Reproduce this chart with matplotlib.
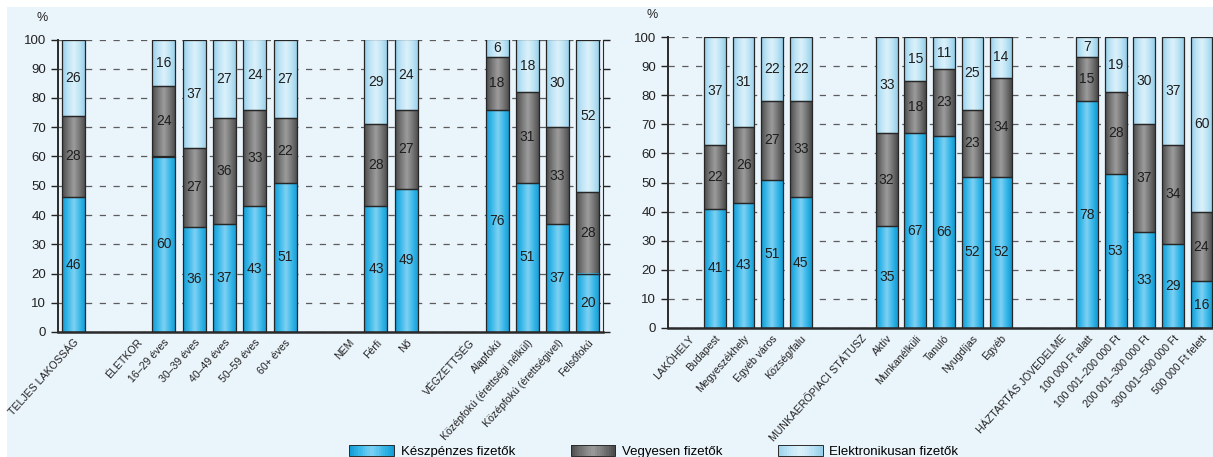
import numpy as np
import matplotlib
matplotlib.use("Agg")
import matplotlib.pyplot as plt
from matplotlib.colors import LinearSegmentedColormap
from matplotlib.patches import Rectangle
from matplotlib.legend_handler import HandlerBase

plt.rcParams['font.family'] = ['Liberation Sans', 'DejaVu Sans']

# ---- data (percent) ----
left_headers = [None, 'ÉLETKOR', 'NEM', 'VÉGZETTSÉG']
left_group_sizes = [1, 5, 2, 4]
left_labels = ['TELJES LAKOSSÁG', '16–29 éves', '30–39 éves', '40–49 éves', '50–59 éves',
               '60+ éves', 'Férfi', 'Nő', 'Alapfokú', 'Középfokú (érettségi nélkül)',
               'Középfokú (érettségivel)', 'Felsőfokú']
left_cash = [46, 60, 36, 37, 43, 51, 43, 49, 76, 51, 37, 20]
left_mixed = [28, 24, 27, 36, 33, 22, 28, 27, 18, 31, 33, 28]
left_elec = [26, 16, 37, 27, 24, 27, 29, 24, 6, 18, 30, 52]

right_headers = ['LAKÓHELY', 'MUNKAERŐPIACI STÁTUSZ', 'HÁZTARTÁS JÖVEDELME']
right_group_sizes = [4, 5, 5]
right_labels = ['Budapest', 'Megyeszékhely', 'Egyéb város', 'Község/falu',
                'Aktív', 'Munkanélküli', 'Tanuló', 'Nyugdíjas', 'Egyéb',
                '100 000 Ft alatt', '100 001–200 000 Ft', '200 001–300 000 Ft',
                '300 001–500 000 Ft', '500 000 Ft felett']
right_cash = [41, 43, 51, 45, 35, 67, 66, 52, 52, 78, 53, 33, 29, 16]
right_mixed = [22, 26, 27, 33, 32, 18, 23, 23, 34, 15, 28, 37, 34, 24]
right_elec = [37, 31, 22, 22, 33, 15, 11, 25, 14, 7, 19, 30, 37, 60]

series_names = ['Készpénzes fizetők', 'Vegyesen fizetők', 'Elektronikusan fizetők']

# horizontal gradient of each series (edge -> highlight -> edge)
cmaps = [
    LinearSegmentedColormap.from_list('cash', ['#119bd5', '#3dbaea', '#7fd1f3', '#3ab8e9', '#109ad4']),
    LinearSegmentedColormap.from_list('mixed', ['#4a4a4a', '#777777', '#9c9c9c', '#757575', '#484848']),
    LinearSegmentedColormap.from_list('elec', ['#98cfea', '#bfe5f6', '#dcf1fb', '#bde4f5', '#96cee9']),
]

BG = '#eaf4fb'
W, H = 1213, 457


def layout(group_sizes, headers):
    item_pos, head_pos = [], []
    pos = 0
    for gi, size in enumerate(group_sizes):
        if gi > 0:
            pos += 1
        if headers[gi] is not None:
            head_pos.append(pos + 0.1)
            pos += 1
        for _ in range(size):
            item_pos.append(pos)
            pos += 1
    return np.array(item_pos, float), head_pos


def draw_panel(ax, group_sizes, headers, labels, cash, mixed, elec, xlim, right_spine):
    xs, hx = layout(group_sizes, headers)
    width = 0.76
    grad = np.linspace(0, 1, 64).reshape(1, -1)
    bottom = np.zeros(len(xs))
    for vals, cmap in zip([cash, mixed, elec], cmaps):
        vals = np.array(vals, float)
        for x, b, v in zip(xs, bottom, vals):
            ax.imshow(grad, extent=(x - width / 2, x + width / 2, b, b + v), cmap=cmap,
                      aspect='auto', interpolation='bilinear', zorder=2)
            ax.text(x, b + v / 2, f"{v:.0f}", ha='center', va='center', fontsize=10,
                    color='#1e1e1e', zorder=4)
        ax.bar(xs, vals, width, bottom=bottom, fill=False, edgecolor='#262626',
               linewidth=0.9, zorder=3)
        bottom = bottom + vals

    ax.set_xlim(*xlim)
    ax.set_ylim(0, 100)
    ax.set_facecolor('none')
    ax.set_yticks(np.arange(0, 101, 10))
    ax.yaxis.grid(True, linestyle=(0, (5, 6)), color='#5c5c5c', linewidth=0.9)
    ax.set_axisbelow(True)

    tick_pos = list(xs) + list(hx)
    tick_lab = list(labels) + [h for h in headers if h is not None]
    ax.set_xticks(tick_pos)
    ax.set_xticklabels(tick_lab, rotation=48, ha='right', rotation_mode='anchor',
                       fontsize=7.6, color='#222222')
    ax.tick_params(axis='x', length=0, pad=4)
    ax.tick_params(axis='y', direction='out', length=5, width=1, labelsize=9.5,
                   colors='#222222', right=right_spine)
    for s in ['left', 'bottom', 'right']:
        ax.spines[s].set_color('#2a2a2a')
    ax.spines['left'].set_linewidth(1.4)
    ax.spines['bottom'].set_linewidth(1.8)
    ax.spines['right'].set_visible(right_spine)
    ax.spines['top'].set_visible(False)
    ax.text(-0.03, 1.075, '%', transform=ax.transAxes, ha='center', va='center',
            fontsize=9, color='#222222')


class GradientHandler(HandlerBase):
    def __init__(self, cmap):
        super().__init__()
        self.cmap = cmap

    def create_artists(self, legend, orig_handle, xdescent, ydescent, width, height, fontsize, trans):
        n = 20
        arts = []
        for i in range(n):
            r = Rectangle((-xdescent + width * i / n, -ydescent), width / n + 0.2, height,
                          facecolor=self.cmap((i + 0.5) / n), edgecolor='none', transform=trans)
            arts.append(r)
        arts.append(Rectangle((-xdescent, -ydescent), width, height, fill=False,
                              edgecolor='#2b2b2b', linewidth=0.7, transform=trans))
        return arts


fig = plt.figure(figsize=(W / 100, H / 100), dpi=100)
fig.patch.set_facecolor('white')
fig.patches.append(Rectangle((7 / W, 0), 1, 1 - 7 / H, transform=fig.transFigure,
                             facecolor=BG, edgecolor='none', zorder=-10))

ax1 = fig.add_axes([58 / W, 1 - 332 / H, 545 / W, 292.5 / H])
draw_panel(ax1, left_group_sizes, left_headers, left_labels,
           left_cash, left_mixed, left_elec, (-0.5, 17.5), True)

ax2 = fig.add_axes([668 / W, 1 - 328 / H, 545 / W, 291 / H])
draw_panel(ax2, right_group_sizes, right_headers, right_labels,
           right_cash, right_mixed, right_elec, (-0.64, 18.4), False)

handles = [Rectangle((0, 0), 1, 1) for _ in series_names]
fig.legend(handles, series_names, loc='center', bbox_to_anchor=(0.539, 0.012), ncol=3,
           frameon=False, fontsize=9.5, handlelength=3.4, handleheight=0.9,
           columnspacing=4.2, handletextpad=0.5,
           handler_map={h: GradientHandler(c) for h, c in zip(handles, cmaps)})

fig.savefig('out.png', dpi=100, facecolor=fig.get_facecolor())
